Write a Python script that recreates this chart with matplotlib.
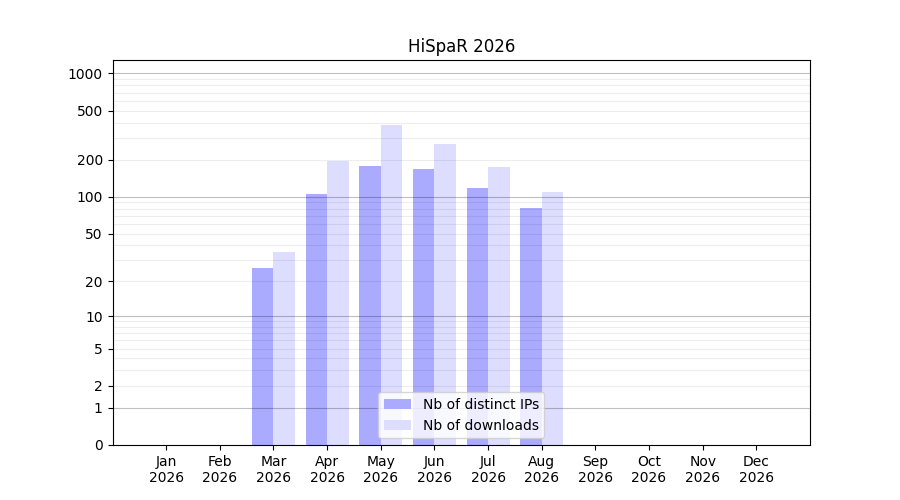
import numpy as np
import matplotlib
matplotlib.use("Agg")
import matplotlib.pyplot as plt

# 月份和数据
months = ["Jan", "Feb", "Mar", "Apr", "May", "Jun",
          "Jul", "Aug", "Sep", "Oct", "Nov", "Dec"]
year = "2026"
distinct_ips = [0, 0, 26, 105, 178, 168, 118, 81, 0, 0, 0, 0]
downloads = [0, 0, 35, 195, 382, 268, 174, 109, 0, 0, 0, 0]
ytick_values = [0, 1, 2, 5, 10, 20, 50, 100, 200, 500, 1000]


def fwd(v):
    return np.log10(np.asarray(v, dtype=float) + 1)


def inv(v):
    return 10 ** np.asarray(v, dtype=float) - 1


fig, ax = plt.subplots(figsize=(9, 5), dpi=100)

x = np.arange(len(months))
ax.bar(x - 0.2, distinct_ips, width=0.4, color="#aaaaff", label="Nb of distinct IPs")
ax.bar(x + 0.2, downloads, width=0.4, color="#ddddff", label="Nb of downloads")

ax.set_yscale("function", functions=(fwd, inv))
ax.set_ylim(0, 1285)
ax.set_xlim(-1, 12)

ax.set_yticks(ytick_values)
ax.set_yticklabels([str(v) for v in ytick_values])
ax.set_xticks(x)
ax.set_xticklabels([f"{m}\n{year}" for m in months])

# 网格线：十进位较深，其余较浅
for k in range(4):
    base = 10 ** k
    ax.axhline(base, color="k", alpha=0.25, linewidth=0.8, zorder=3)
    if k < 3:
        for m in range(2, 10):
            ax.axhline(m * base, color="k", alpha=0.07, linewidth=0.8, zorder=3)

ax.set_title("HiSpaR 2026")
ax.legend(loc="lower center")

plt.savefig("out.png", dpi=100)
